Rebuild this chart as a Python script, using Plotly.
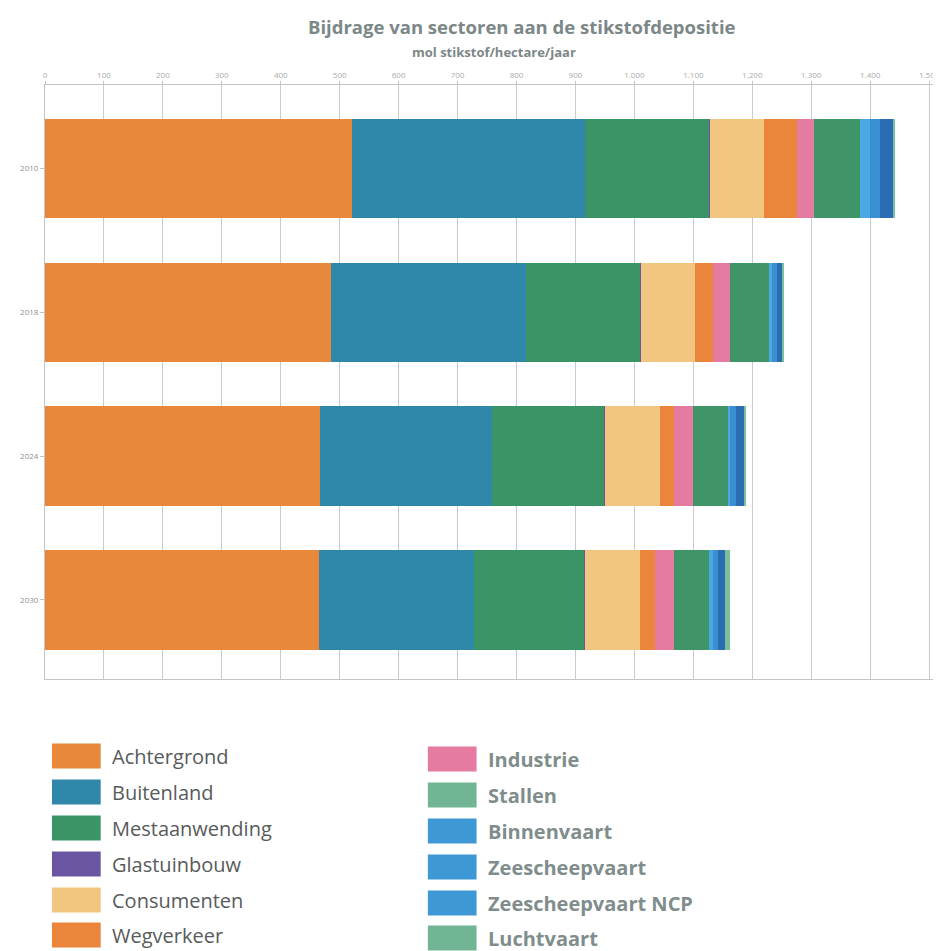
import plotly.graph_objects as go

years = ["2010", "2018", "2024", "2030"]
series = ["Achtergrond", "Buitenland", "Mestaanwending", "Glastuinbouw", "Consumenten",
          "Wegverkeer", "Industrie", "Stallen", "Binnenvaart", "Zeescheepvaart",
          "Zeescheepvaart NCP", "Luchtvaart"]
achtergrond = [521, 486, 467, 465]
buitenland = [396, 330, 292, 262]
mestaanwending = [211, 194, 190, 189]
glastuinbouw = [1, 1, 1, 1]
consumenten = [91, 91, 93, 92]
wegverkeer = [56, 31, 25, 26]
industrie = [29, 30, 31, 33]
stallen = [77, 66, 59, 59]
binnenvaart = [17, 4, 5, 6]
zeescheepvaart = [17, 9, 10, 9]
zeescheepvaart_ncp = [23, 10, 13, 12]
luchtvaart = [2, 2, 2, 9]
x_ticks = list(range(0, 1501, 100))
x_tick_labels = ["0", "100", "200", "300", "400", "500", "600", "700", "800", "900",
                 "1.000", "1.100", "1.200", "1.300", "1.400", "1.500"]

values = [achtergrond, buitenland, mestaanwending, glastuinbouw, consumenten, wegverkeer,
          industrie, stallen, binnenvaart, zeescheepvaart, zeescheepvaart_ncp, luchtvaart]
bar_colors = ["#e8883b", "#2f87a9", "#3b9466", "#6a55a3", "#f2c681", "#eb853c",
              "#e57ba0", "#3f9568", "#4ba8e2", "#3a8fd2", "#2b6db3", "#7cbf9a"]
legend_colors = ["#e8883b", "#2f87a9", "#3b9466", "#6a55a3", "#f2c681", "#eb853c",
                 "#e57ba0", "#72b594", "#3f98d6", "#3f98d6", "#3f98d6", "#72b594"]

OFF = 8  # page body margin
W, H = 941, 951
L, R, T, B = 45 - OFF, 940 - OFF, 85 - OFF, 679 - OFF

fig = go.Figure()
for name, vals, col in zip(series, values, bar_colors):
    fig.add_trace(go.Bar(y=years, x=vals, name=name, orientation="h",
                         marker=dict(color=col, line=dict(width=0)), width=0.69,
                         showlegend=False))


def px(xs):
    return (xs - OFF - L) / (R - L)


def py(ys):
    return (B - (ys - OFF)) / (B - T)


shapes = []
annotations = []
# custom legend
rows = [756, 792, 828, 864, 900, 935]
for i, (name, col) in enumerate(zip(series, legend_colors)):
    colx = i // 6
    r = i % 6
    yc = rows[r] + (3 if colx == 1 else 0)
    x0 = 52 if colx == 0 else 430
    shapes.append(dict(type="rect", xref="paper", yref="paper",
                       x0=px(x0), x1=px(x0 + 49), y0=py(yc - 12.5), y1=py(yc + 12.5),
                       fillcolor=col, line=dict(width=0)))
    annotations.append(dict(xref="paper", yref="paper", x=px(x0 + 58), y=py(yc),
                            text=("<b>%s</b>" % name) if colx == 1 else name,
                            showarrow=False, xanchor="left", yanchor="middle",
                            font=dict(family="Open Sans", size=20,
                                      color="#7f8d8c" if colx == 1 else "#575b5b")))

annotations.append(dict(xref="paper", yref="paper", x=px(525), y=py(27),
                        text="<b>Bijdrage van sectoren aan de stikstofdepositie</b>",
                        showarrow=False, xanchor="center", yanchor="middle",
                        font=dict(family="Open Sans", size=18.5, color="#7c8787")))
annotations.append(dict(xref="paper", yref="paper", x=px(497), y=py(52),
                        text="<b>mol stikstof/hectare/jaar</b>",
                        showarrow=False, xanchor="center", yanchor="middle",
                        font=dict(family="Open Sans", size=13, color="#7c8787")))

fig.update_layout(
    width=W, height=H,
    margin=dict(l=L, r=W - R, t=T, b=H - B, pad=0),
    barmode="stack", bargap=0.3,
    plot_bgcolor="white", paper_bgcolor="white",
    font=dict(family="Open Sans", color="#9a9a9a"),
    shapes=shapes, annotations=annotations,
    xaxis=dict(side="top", range=[0, 1510], tickvals=x_ticks, ticktext=x_tick_labels,
               showgrid=True, gridcolor="#c9cccc", gridwidth=1, zeroline=False,
               showline=True, linecolor="#c2c6c6", mirror=True, ticks="outside",
               ticklen=3, tickcolor="#c2c6c6", tickfont=dict(size=8, color="#a8acac")),
    yaxis=dict(type="category", range=[3.55, -0.58], showgrid=False, zeroline=False,
               showline=True, linecolor="#c2c6c6", mirror=True, ticks="outside",
               ticklen=4, tickcolor="#c2c6c6", tickfont=dict(size=8, color="#8a9090")),
)

fig.write_html("out.html")
